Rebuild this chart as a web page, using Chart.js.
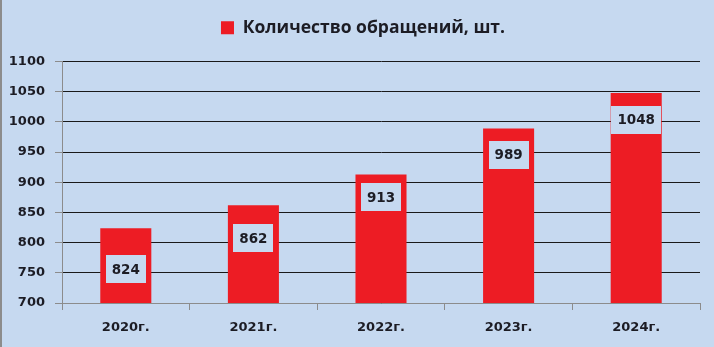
<!DOCTYPE html>
<html>
<head>
<meta charset="utf-8">
<script src="https://cdn.jsdelivr.net/npm/chart.js@4.4.1/dist/chart.umd.min.js"></script>
<style>
    html, body { margin: 0; padding: 0; background: #c6d9f0; }
    #wrap { width: 714px; height: 347px; position: relative; box-sizing: border-box; border-left: 2px solid #8c8c8c; }
    canvas { display: block; }
</style>
</head>
<body>
<div id="wrap"><canvas id="requestsChart" width="712" height="347"></canvas></div>
<script>
// Chart data
const years = ['2020г.', '2021г.', '2022г.', '2023г.', '2024г.'];
const requests = [824, 862, 913, 989, 1048];
const seriesName = 'Количество обращений, шт.';

const bgColor = '#c6d9f0';
const barColor = '#ed1c24';
const textColor = '#1c1c24';

// Label boxes are placed by hand in the original, offset in px below bar top
const labelOffsets = [41, 33, 23, 26, 27];

const valueLabels = {
    id: 'valueLabels',
    afterInit(chart) {
        const legend = chart.legend;
        if (legend) {
            // leave some room between the legend and the plot
            const fit = legend.fit;
            legend.fit = function() {
                fit.call(this);
                this.height += 15;
            };
            // legend sits a little right of centre in the original
            const draw = legend.draw;
            legend.draw = function() {
                this.ctx.save();
                this.ctx.translate(12, 0);
                draw.apply(this, arguments);
                this.ctx.restore();
            };
        }
    },
    afterDatasetsDraw(chart) {
        const ctx = chart.ctx;
        const meta = chart.getDatasetMeta(0);
        ctx.save();
        ctx.font = 'bold 13.5px "DejaVu Sans"';
        ctx.textAlign = 'center';
        ctx.textBaseline = 'middle';
        meta.data.forEach((bar, i) => {
            const text = String(chart.data.datasets[0].data[i]);
            const w = ctx.measureText(text).width + 12;
            const h = 28;
            const cy = bar.y + labelOffsets[i];
            ctx.fillStyle = bgColor;
            ctx.fillRect(Math.round(bar.x - w / 2), Math.round(cy - h / 2), Math.round(w), h);
            ctx.fillStyle = textColor;
            ctx.fillText(text, bar.x, cy + 1);
        });
        ctx.restore();
    }
};

document.addEventListener('DOMContentLoaded', function() {
    const ctx = document.getElementById('requestsChart').getContext('2d');
    new Chart(ctx, {
        type: 'bar',
        data: {
            labels: years,
            datasets: [{
                label: seriesName,
                data: requests,
                backgroundColor: barColor,
                borderWidth: 0,
                categoryPercentage: 1,
                barPercentage: 0.4
            }]
        },
        options: {
            responsive: false,
            animation: false,
            layout: {
                padding: { top: 9, right: 14, bottom: 0, left: 0 }
            },
            scales: {
                y: {
                    min: 700,
                    max: 1100,
                    ticks: {
                        stepSize: 50,
                        color: textColor,
                        padding: 10,
                        font: { family: 'DejaVu Sans', weight: 'bold', size: 13 },
                        callback: (v) => String(v)
                    },
                    grid: {
                        color: '#1a1a1a',
                        tickColor: '#8c8c8c',
                        tickLength: 7,
                        lineWidth: 1
                    },
                    border: { color: '#8c8c8c' },
                    afterFit(scale) { scale.width = 60; }
                },
                x: {
                    ticks: {
                        color: textColor,
                        padding: 10,
                        font: { family: 'DejaVu Sans', weight: 'bold', size: 13 }
                    },
                    grid: {
                        drawOnChartArea: false,
                        tickColor: '#8c8c8c',
                        tickLength: 7
                    },
                    border: { color: '#8c8c8c' },
                    afterFit(scale) { scale.height = 44; }
                }
            },
            plugins: {
                legend: {
                    position: 'top',
                    labels: {
                        boxWidth: 13,
                        boxHeight: 13,
                        padding: 10,
                        color: textColor,
                        font: { family: 'Open Sans', weight: 'bold', size: 17.5 }
                    }
                },
                tooltip: { enabled: false }
            }
        },
        plugins: [valueLabels]
    });
});
</script>
</body>
</html>
